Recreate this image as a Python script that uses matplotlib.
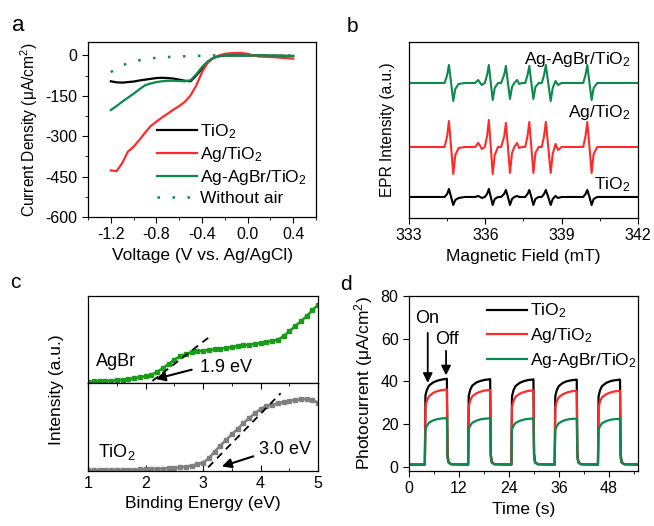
import numpy as np
import matplotlib.pyplot as plt
from matplotlib.ticker import MultipleLocator

plt.rcParams['font.family'] = ['Liberation Sans', 'DejaVu Sans']
plt.rcParams['mathtext.fontset'] = 'custom'
plt.rcParams['mathtext.rm'] = 'Liberation Sans'
plt.rcParams['mathtext.it'] = 'Liberation Sans:italic'
plt.rcParams['axes.linewidth'] = 0.9

BLACK = '#000000'
RED = '#ff2b2b'
GREEN = '#0a8a4c'
GREEN_C = '#1a9c1a'
GREY = '#808080'

# -------------------------------
# (a) linear sweep voltammetry
# -------------------------------
volt = [-1.2, -1.15, -1.1, -1.05, -1.0, -0.95, -0.9, -0.85, -0.8, -0.75, -0.7,
        -0.65, -0.6, -0.55, -0.5, -0.45, -0.4, -0.35, -0.3, -0.25, -0.2, -0.15,
        -0.1, -0.05, 0.0, 0.05, 0.1, 0.15, 0.2, 0.25, 0.3, 0.35, 0.4]
cd_tio2 = [-96, -100, -101, -99, -97, -93, -90, -87, -84, -83, -84, -86, -90,
           -94, -96, -74, -49, -25, -9, -3, 0, 0, 0, 0, 0, 0, 0, 0, -1, -1, -1, -2, -2]
cd_ag = [-427, -430, -400, -357, -339, -314, -287, -262, -246, -230, -216, -201,
         -188, -172, -148, -111, -62, -27, -9, 0, 6, 8, 9, 9, 6, 0, -4, -5, -6,
         -7, -9, -10, -12]
cd_agbr = [-203, -188, -172, -157, -142, -126, -111, -104, -99, -96, -94, -94,
           -95, -96, -92, -70, -43, -22, -9, -2, 0, 0, 0, 0, 0, 0, 0, 0, -1, -1,
           -1, -2, -2]
cd_noair = [-62, -48, -37, -29, -22, -18, -14, -11, -9, -7, -6, -5, -4, -3, -2,
            -2, -1, -1, 0, 0, 0, 0, 0, 0, 0, 0, 0, 0, 0, 0, 0, 0, 0]

# -------------------------------
# (b) EPR spectra (relative to each trace baseline)
# -------------------------------
field = [333.0, 334.40, 334.50, 334.57, 334.655, 334.74, 334.82, 334.95, 335.20,
         335.60, 335.72, 335.80, 335.86, 335.98, 336.07, 336.14, 336.215, 336.29,
         336.37, 336.50, 336.62, 336.74, 336.81, 336.89, 336.97, 337.05, 337.14,
         337.25, 337.33, 337.45, 337.57, 337.66, 337.73, 337.81, 337.89, 337.97,
         338.10, 338.22, 338.31, 338.38, 338.475, 338.57, 338.65, 338.76, 338.86,
         339.00, 339.85, 339.94, 340.01, 340.095, 340.18, 340.26, 340.40, 342.0]
epr_agbr = [0, 0, 8, 18, 0, -18, -6, -1, 0, 0, 3, 0, -2, 0, 8, 18, 0, -17, -5, 0,
            0, 8, 17, 0, -16, -4, 0, 3, -1, 0, 0, 8, 17, 0, -16, -4, 0, 0, 8, 18,
            0, -18, -5, 2, -2, 0, 0, 8, 18, 0, -17, -5, 0, 0]
epr_ag = [0, 0, 11, 26, 0, -27, -8, -1, 0, 0, 4, 1, -2, 0, 11, 27, 0, -27, -8, 0,
          0, 10, 24, 0, -26, -6, 0, 4, -1, 0, 0, 11, 25, 0, -26, -6, 0, 0, 11, 25,
          0, -26, -7, 3, -3, 0, 0, 11, 25, 0, -26, -7, 0, 0]
epr_tio2 = [0, 0, 3, 8, 0, -8, -3, -1, 0, 0, 1, 0, -1, 0, 3, 8, 0, -8, -2, 0,
            0, 3, 7, 0, -8, -2, 0, 1, 0, 0, 0, 3, 7, 0, -8, -2, 0, 0, 3, 7,
            0, -8, -2, 1, -1, 0, 0, 3, 7, 0, -8, -2, 0, 0]

# -------------------------------
# (c) valence band XPS
# -------------------------------
be_agbr = [1.0, 1.1, 1.2, 1.3, 1.4, 1.5, 1.6, 1.7, 1.8, 1.9, 2.0, 2.1, 2.2, 2.3,
           2.4, 2.5, 2.6, 2.7, 2.8, 2.9, 3.0, 3.1, 3.2, 3.3, 3.4, 3.5, 3.6, 3.7,
           3.8, 3.9, 4.0, 4.1, 4.2, 4.3, 4.4, 4.5, 4.6, 4.7, 4.8, 4.9, 5.0]
int_agbr = [1.3, 1.5, 1.7, 2.0, 2.3, 2.8, 3.3, 4.0, 4.7, 5.6, 6.7, 8.3, 11.0,
            14.7, 19.0, 23.3, 26.7, 29.0, 30.7, 31.6, 32.3, 33.0, 33.7, 34.3,
            35.0, 35.8, 36.7, 37.5, 38.3, 39.1, 40.0, 41.0, 42.0, 43.3, 46.7,
            51.7, 56.7, 61.7, 66.7, 72.7, 78.3]
be_tio2 = be_agbr
int_tio2 = [1.0, 0.8, 0.7, 0.9, 1.0, 1.0, 1.0, 1.1, 1.3, 1.5, 1.7, 1.8, 2.0, 2.3,
            2.7, 3.1, 3.7, 4.4, 5.3, 6.7, 8.3, 12.7, 19.3, 25.3, 31.0, 36.7,
            42.0, 47.7, 52.7, 57.7, 61.7, 65.0, 66.0, 67.7, 68.7, 70.3, 71.0,
            71.7, 72.0, 71.0, 68.3]
tangent_agbr_x = [2.12, 3.12]
tangent_agbr_y = [2.0, 46.5]
tangent_tio2_x = [3.09, 4.35]
tangent_tio2_y = [3.7, 77.7]

# -------------------------------
# (d) transient photocurrent
# -------------------------------
time_s = [0.0,
          3.8, 3.95, 4.3, 4.8, 5.8, 6.8, 7.8, 9.1, 9.25, 9.5, 10.1,
          14.2, 14.35, 14.7, 15.2, 16.2, 17.2, 18.2, 19.5, 19.65, 19.9, 20.5,
          24.6, 24.75, 25.1, 25.6, 26.6, 27.6, 28.6, 29.9, 30.05, 30.3, 30.9,
          35.0, 35.15, 35.5, 36.0, 37.0, 38.0, 39.0, 40.3, 40.45, 40.7, 41.3,
          45.4, 45.55, 45.9, 46.4, 47.4, 48.4, 49.4, 50.7, 50.85, 51.1, 51.7,
          55.0]
pc_tio2 = [1.0,
           1.0, 33.5, 36.0, 38.0, 39.5, 40.3, 40.8, 41.2, 6.0, 2.2, 1.2,
           1.0, 33.0, 36.0, 38.0, 39.5, 40.2, 40.7, 41.0, 6.0, 2.2, 1.2,
           1.0, 33.0, 35.8, 37.8, 39.3, 40.1, 40.6, 40.9, 6.0, 2.2, 1.2,
           1.0, 33.0, 35.8, 37.8, 39.3, 40.1, 40.5, 40.8, 6.0, 2.2, 1.2,
           1.0, 33.0, 35.8, 37.8, 39.3, 40.1, 40.5, 40.8, 6.0, 2.2, 1.2,
           1.0]
pc_ag = [1.0,
         1.0, 28.5, 31.0, 33.0, 34.6, 35.4, 35.9, 36.2, 5.0, 2.0, 1.2,
         1.0, 28.0, 31.0, 33.0, 34.4, 35.2, 35.7, 36.0, 5.0, 2.0, 1.2,
         1.0, 28.0, 30.8, 32.8, 34.2, 35.0, 35.5, 35.8, 5.0, 2.0, 1.2,
         1.0, 27.8, 30.6, 32.6, 34.0, 34.8, 35.3, 35.6, 5.0, 2.0, 1.2,
         1.0, 27.8, 30.6, 32.6, 34.0, 34.8, 35.3, 35.5, 5.0, 2.0, 1.2,
         1.0]
pc_agbr = [1.0,
           1.0, 17.5, 19.2, 20.6, 21.7, 22.3, 22.6, 22.8, 4.0, 1.8, 1.2,
           1.0, 17.5, 19.2, 20.6, 21.6, 22.2, 22.5, 22.7, 4.0, 1.8, 1.2,
           1.0, 17.5, 19.1, 20.5, 21.5, 22.1, 22.4, 22.6, 4.0, 1.8, 1.2,
           1.0, 17.4, 19.0, 20.4, 21.5, 22.1, 22.4, 22.5, 4.0, 1.8, 1.2,
           1.0, 17.4, 19.0, 20.4, 21.4, 22.0, 22.3, 22.4, 4.0, 1.8, 1.2,
           1.0]

# -------------------------------
# Figure
# -------------------------------
TICK_FS = 11.5
LABEL_FS = 12.5
LEG_FS = 12.5
NOTE_FS = 13

fig = plt.figure(figsize=(6.54, 5.26), dpi=100)

# ---- (a)
ax_a = fig.add_axes([0.1346, 0.5875, 0.3486, 0.3327])
ax_a.plot(volt, cd_tio2, color=BLACK, lw=1.6, label='TiO$_2$')
ax_a.plot(volt, cd_ag, color=RED, lw=1.6, label='Ag/TiO$_2$')
ax_a.plot(volt, cd_agbr, color=GREEN, lw=1.6, label='Ag-AgBr/TiO$_2$')
ax_a.plot(volt, cd_noair, color=GREEN, lw=1.8, ls=(0, (1, 5)), label='Without air')
ax_a.set_xlim(-1.4, 0.6)
ax_a.set_ylim(-600, 50)
ax_a.set_xticks([-1.2, -0.8, -0.4, 0.0, 0.4])
ax_a.set_xticklabels(['-1.2', '-0.8', '-0.4', '0.0', '0.4'])
ax_a.set_yticks([0, -150, -300, -450, -600])
ax_a.set_yticklabels(['0', '-150', '-300', '-450', '-600'])
ax_a.xaxis.set_minor_locator(MultipleLocator(0.2))
ax_a.yaxis.set_minor_locator(MultipleLocator(75))
ax_a.set_xlabel('Voltage (V vs. Ag/AgCl)', fontsize=LABEL_FS)
ax_a.set_ylabel('Current Density (μA/cm$^2$)', fontsize=11.2)
ax_a.legend(frameon=False, fontsize=LEG_FS, loc='upper left',
            bbox_to_anchor=(0.272, 0.583), handlelength=2.3,
            handletextpad=0.18, labelspacing=0.23, borderaxespad=0)

# ---- (b)
ax_b = fig.add_axes([0.6254, 0.5856, 0.350, 0.3346])
off_agbr, off_ag, off_tio2 = 135, 71, 21
ax_b.plot(field, np.array(epr_agbr) + off_agbr, color=GREEN, lw=1.5)
ax_b.plot(field, np.array(epr_ag) + off_ag, color=RED, lw=1.5)
ax_b.plot(field, np.array(epr_tio2) + off_tio2, color=BLACK, lw=1.5)
ax_b.set_xlim(333, 342)
ax_b.set_ylim(0, 176)
ax_b.set_xticks([333, 336, 339, 342])
ax_b.xaxis.set_minor_locator(MultipleLocator(1.5))
ax_b.tick_params(axis='y', left=False, labelleft=False)
ax_b.text(341.7, 158, 'Ag-AgBr/TiO$_2$', ha='right', va='center', fontsize=LEG_FS)
ax_b.text(341.7, 105, 'Ag/TiO$_2$', ha='right', va='center', fontsize=LEG_FS)
ax_b.text(341.7, 33, 'TiO$_2$', ha='right', va='center', fontsize=LEG_FS)
ax_b.set_xlabel('Magnetic Field (mT)', fontsize=LABEL_FS)
ax_b.set_ylabel('EPR Intensity (a.u.)', fontsize=11.2, labelpad=10)

# ---- (c)
ax_c1 = fig.add_axes([0.1346, 0.2719, 0.3517, 0.1654])
ax_c2 = fig.add_axes([0.1346, 0.1046, 0.3517, 0.1673])
ax_c1.plot(be_agbr, int_agbr, color=GREEN_C, lw=1.8, marker='s', ms=2.6)
ax_c1.plot(tangent_agbr_x, tangent_agbr_y, color=BLACK, lw=1.3, ls=(0, (4, 3)))
ax_c1.annotate('', xy=(2.13, 3.3), xytext=(2.85, 14.0),
               arrowprops=dict(arrowstyle='-|>', color=BLACK, lw=1.5,
                               mutation_scale=14))
ax_c1.text(2.95, 15.7, '1.9 eV', ha='left', va='center', fontsize=NOTE_FS)
ax_c1.text(1.13, 21.7, 'AgBr', ha='left', va='center', fontsize=NOTE_FS)
ax_c1.set_xlim(1, 5)
ax_c1.set_ylim(0, 87)
ax_c1.tick_params(bottom=False, labelbottom=False, left=False, labelleft=False)

ax_c2.plot(be_tio2, int_tio2, color=GREY, lw=1.8, marker='s', ms=2.6)
ax_c2.plot(tangent_tio2_x, tangent_tio2_y, color=BLACK, lw=1.3, ls=(0, (4, 3)))
ax_c2.annotate('', xy=(3.28, 3.7), xytext=(3.92, 15.5),
               arrowprops=dict(arrowstyle='-|>', color=BLACK, lw=1.5,
                               mutation_scale=14))
ax_c2.text(3.98, 21, '3.0 eV', ha='left', va='center', fontsize=NOTE_FS)
ax_c2.text(1.17, 19.3, 'TiO$_2$', ha='left', va='center', fontsize=NOTE_FS)
ax_c2.set_xlim(1, 5)
ax_c2.set_ylim(0, 88)
ax_c2.set_xticks([1, 2, 3, 4, 5])
ax_c2.xaxis.set_minor_locator(MultipleLocator(0.5))
ax_c2.tick_params(axis='x', which='both', direction='in', top=True)
ax_c2.tick_params(axis='y', left=False, labelleft=False)
ax_c2.set_xlabel('Binding Energy (eV)', fontsize=LABEL_FS)
fig.text(57 / 654, 1 - 390 / 526, 'Intensity (a.u.)', rotation=90,
         ha='center', va='center', fontsize=LABEL_FS)

# ---- (d)
ax_d = fig.add_axes([0.6254, 0.1046, 0.350, 0.3327])
ax_d.plot(time_s, pc_tio2, color=BLACK, lw=1.6, label='TiO$_2$')
ax_d.plot(time_s, pc_ag, color=RED, lw=1.6, label='Ag/TiO$_2$')
ax_d.plot(time_s, pc_agbr, color=GREEN, lw=1.6, label='Ag-AgBr/TiO$_2$')
ax_d.set_xlim(0, 55)
ax_d.set_ylim(-2, 80)
ax_d.set_xticks([0, 12, 24, 36, 48])
ax_d.set_yticks([0, 20, 40, 60, 80])
ax_d.xaxis.set_minor_locator(MultipleLocator(6))
ax_d.annotate('', xy=(4.5, 38.0), xytext=(4.5, 64.0),
              arrowprops=dict(arrowstyle='-|>', color=BLACK, lw=1.3,
                              mutation_scale=14))
ax_d.annotate('', xy=(8.9, 41.5), xytext=(8.9, 55.6),
              arrowprops=dict(arrowstyle='-|>', color=BLACK, lw=1.3,
                              mutation_scale=14))
ax_d.text(4.25, 69.6, 'On', ha='center', va='center', fontsize=NOTE_FS)
ax_d.text(9.1, 59.5, 'Off', ha='center', va='center', fontsize=NOTE_FS)
ax_d.set_xlabel('Time (s)', fontsize=LABEL_FS)
ax_d.set_ylabel('Photocurrent (μA/cm$^2$)', fontsize=LABEL_FS)
ax_d.legend(frameon=False, fontsize=LEG_FS, loc='upper left',
            bbox_to_anchor=(0.309, 1.007), handlelength=2.3,
            handletextpad=0.18, labelspacing=0.33, borderaxespad=0)

for ax in (ax_a, ax_b, ax_d):
    ax.tick_params(which='major', direction='out', length=4, labelsize=TICK_FS)
    ax.tick_params(which='minor', direction='out', length=2.5)
ax_c2.tick_params(which='major', length=4, labelsize=TICK_FS)
ax_c2.tick_params(which='minor', length=2.5)

fig.text(12 / 654, 1 - 31 / 526, 'a', fontsize=16)
fig.text(347 / 654, 1 - 32 / 526, 'b', fontsize=15)
fig.text(10 / 654, 1 - 288 / 526, 'c', fontsize=15)
fig.text(340 / 654, 1 - 290 / 526, 'd', fontsize=15)

fig.savefig('out.png', dpi=100)
